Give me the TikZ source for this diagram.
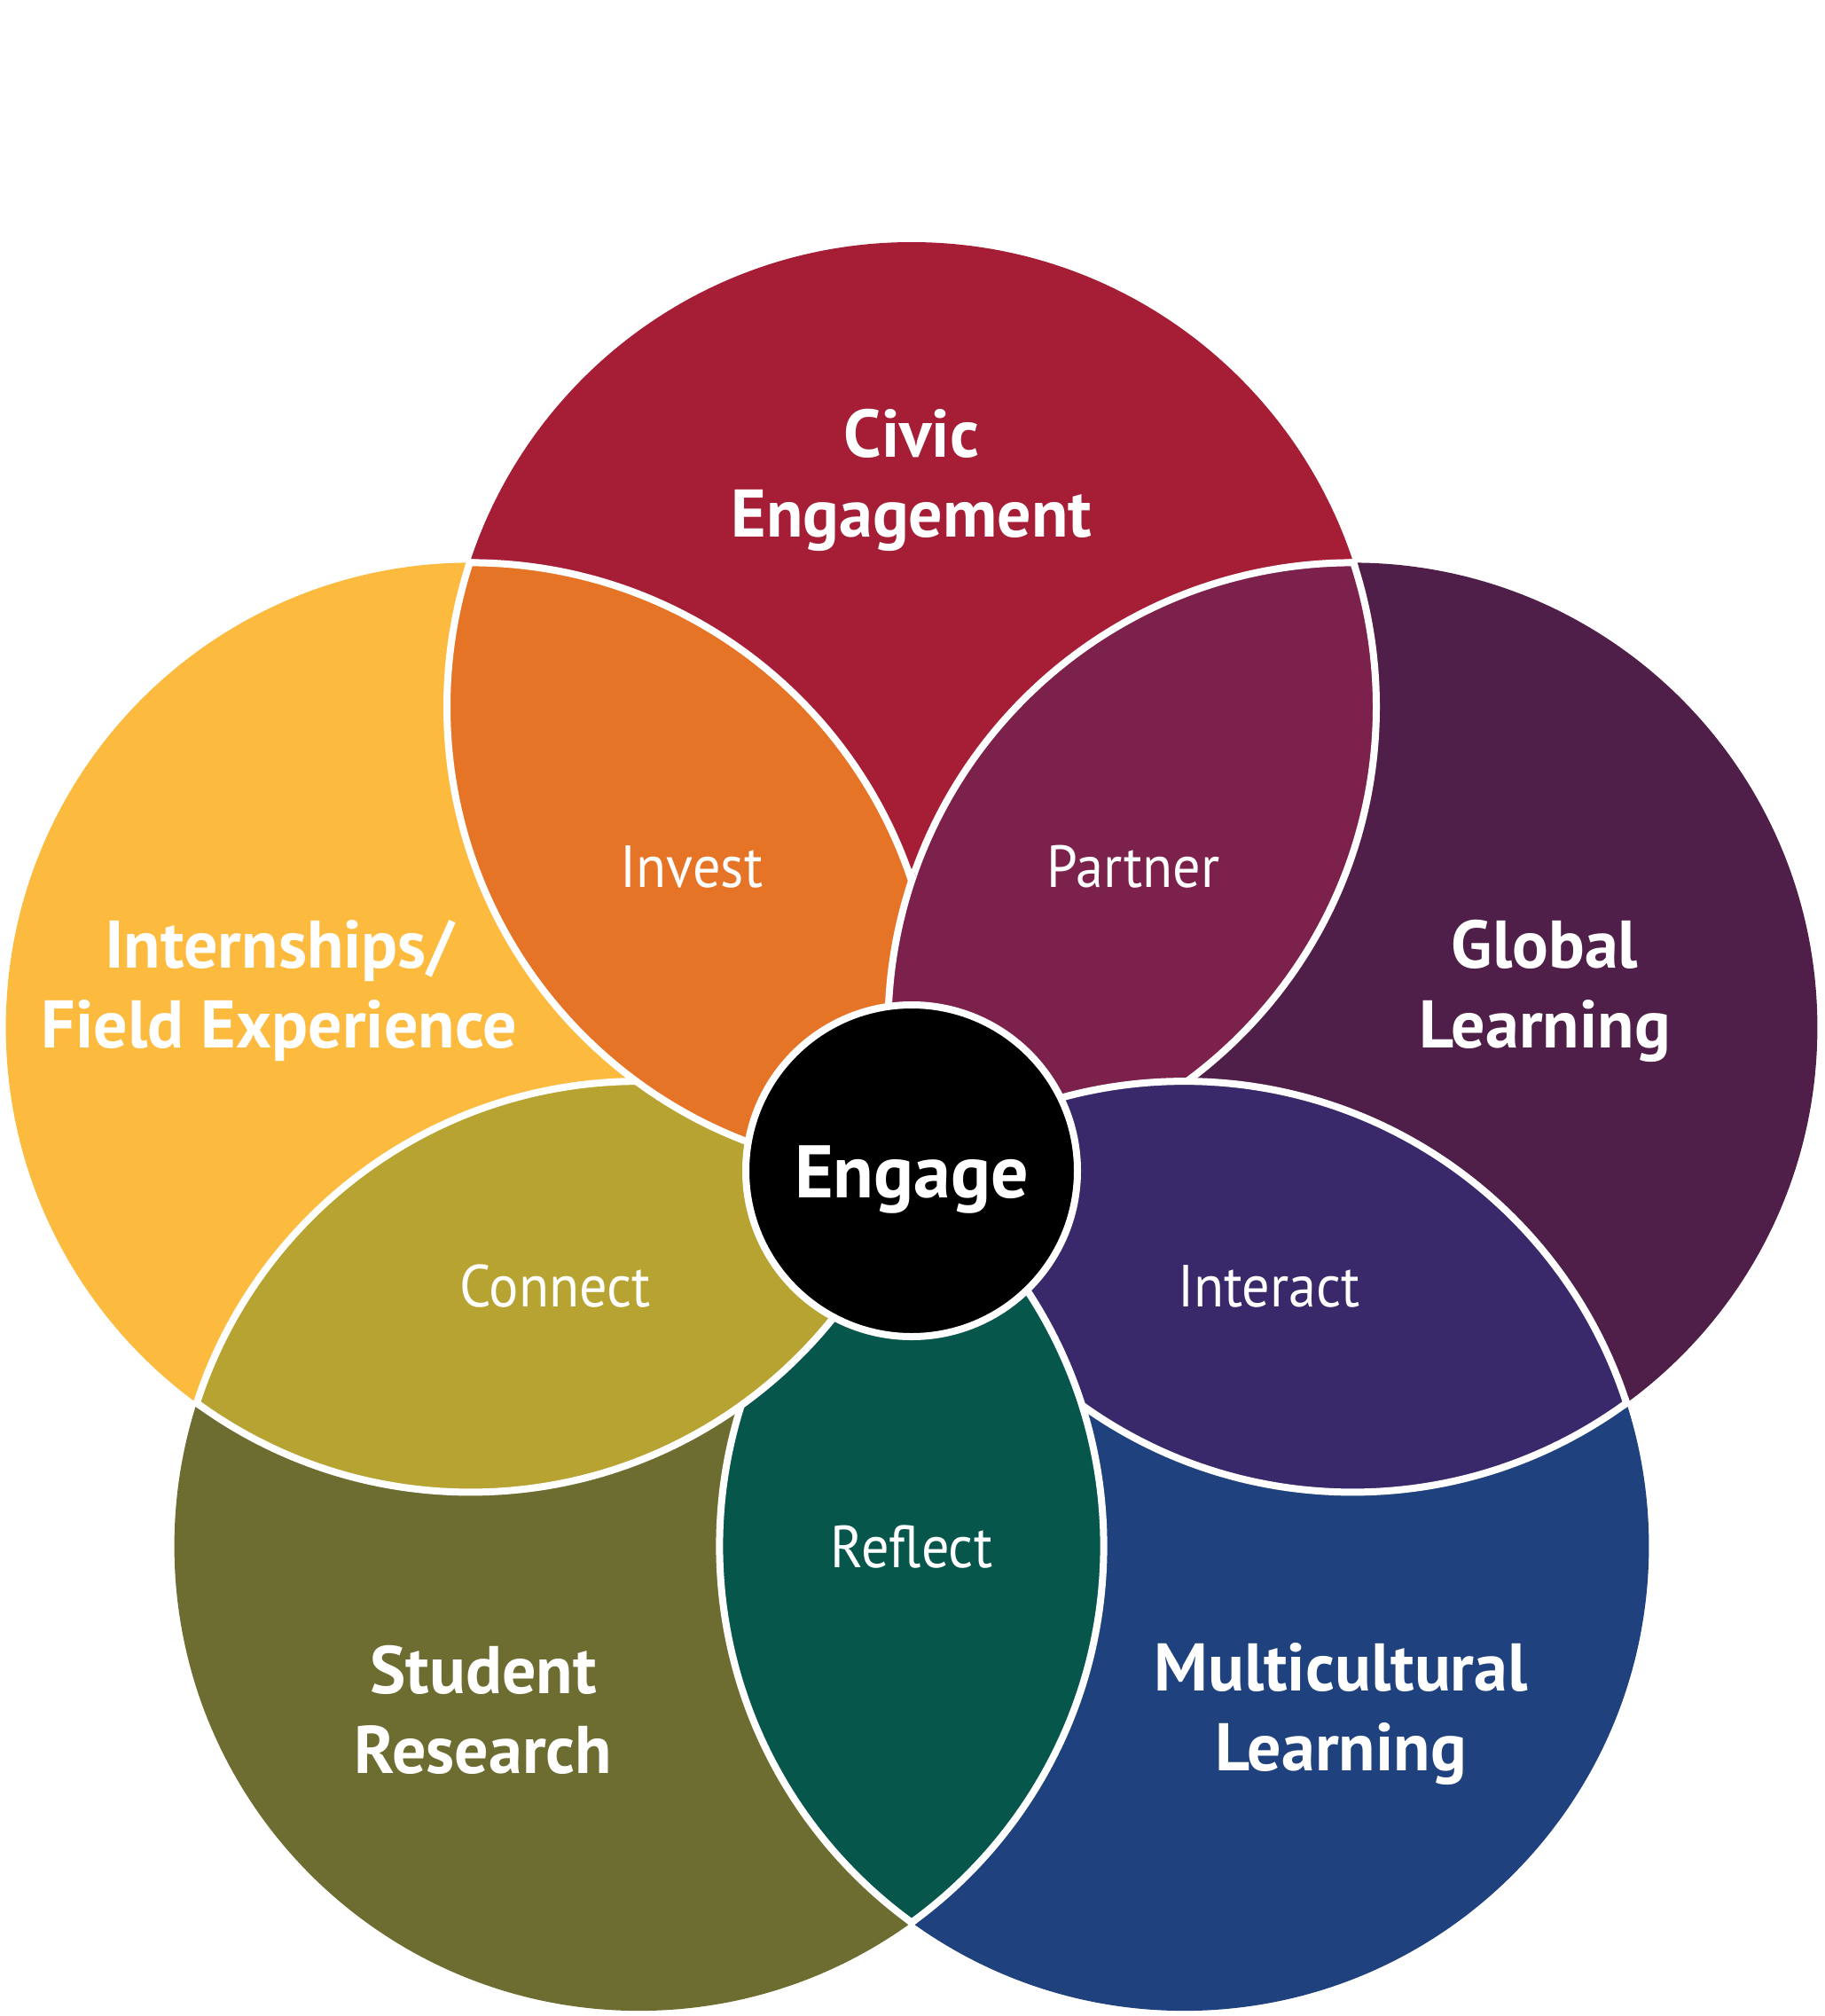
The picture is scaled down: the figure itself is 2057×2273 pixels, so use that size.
\documentclass[tikz,border=0pt]{standalone}
\usepackage{fontspec}
\setmainfont{PT Sans}
\newfontfamily\lensfont[FakeStretch=0.93]{PT Sans}
\definecolor{civic}{HTML}{A51E36}
\definecolor{intern}{HTML}{FCBA3F}
\definecolor{global}{HTML}{4F1F49}
\definecolor{student}{HTML}{6E6D31}
\definecolor{multi}{HTML}{1F417E}
\definecolor{invest}{HTML}{E67427}
\definecolor{partner}{HTML}{7C214B}
\definecolor{interact}{HTML}{39296B}
\definecolor{reflect}{HTML}{06564C}
\definecolor{connect}{HTML}{B7A332}
\newcommand\RR{524}
\newcommand\RRp{528}
\newcommand\mylens[3]{%
  \begin{scope}\clip (#1) circle[radius=\RR]; \fill[#3] (#2) circle[radius=\RR];\end{scope}%
  \begin{scope}\clip (#1) circle[radius=\RRp]; \draw[edge] (#2) circle[radius=\RR];\end{scope}%
  \begin{scope}\clip (#2) circle[radius=\RRp]; \draw[edge] (#1) circle[radius=\RR];\end{scope}}
\tikzset{
  edge/.style={draw=white, line width=8pt},
  bigtext/.style={anchor=base, inner sep=0pt, text=white, font=\fontsize{76}{90}\selectfont\bfseries},
  smalltext/.style={anchor=base, inner sep=0pt, text=white, font=\lensfont\fontsize{67}{80}\selectfont},
}
\begin{document}
\begin{tikzpicture}[x=1pt,y=-1pt]
\useasboundingbox (0,0) rectangle (2057,2273);
\coordinate (cE) at (1028,1320);
\coordinate (cT) at (1028,797);
\coordinate (cL) at (530.6,1158.4);
\coordinate (cR) at (1525.4,1158.4);
\coordinate (cBL) at (720.6,1743.1);
\coordinate (cBR) at (1335.4,1743.1);
% base circles
\fill[civic] (cT) circle[radius=\RR];
\fill[intern] (cL) circle[radius=\RR];
\fill[global] (cR) circle[radius=\RR];
\fill[student] (cBL) circle[radius=\RR];
\fill[multi] (cBR) circle[radius=\RR];
% lenses
\mylens{cT}{cR}{partner}
\mylens{cR}{cBR}{interact}
\mylens{cBR}{cBL}{reflect}
\mylens{cBL}{cL}{connect}
\mylens{cL}{cT}{invest}
\begin{scope}
  \clip (cL) circle[radius=530];
  \mylens{cT}{cR}{partner}
\end{scope}
% centre
\draw[edge, fill=black] (cE) circle[radius=187];
\node[anchor=base, inner sep=0pt, text=white, font=\fontsize{84}{90}\selectfont\bfseries] (engage) at (1028,1350) {Engage};
% titles
\node[bigtext] (civicA) at (1028,515) {Civic};
\node[bigtext] (civicB) at (1028,605) {Engagement};
\node[bigtext] (internA) at (315,1091) {Internships/};
\node[bigtext] (internB) at (315,1181) {Field Experience};
\node[bigtext] (globalA) at (1742,1091) {Global};
\node[bigtext] (globalB) at (1742,1181) {Learning};
\node[bigtext] (studentA) at (545,1909) {Student};
\node[bigtext] (studentB) at (545,1999) {Research};
\node[bigtext] (multiA) at (1512,1906) {Multicultural};
\node[bigtext] (multiB) at (1512,1996) {Learning};
% lens labels
\node[smalltext] (invest) at (780,1000) {Invest};
\node[smalltext] (partner) at (1278,1000) {Partner};
\node[smalltext] (connect) at (626,1473) {Connect};
\node[smalltext] (interact) at (1431,1473) {Interact};
\node[smalltext] (reflect) at (1028,1767) {Reflect};
\end{tikzpicture}
\end{document}
